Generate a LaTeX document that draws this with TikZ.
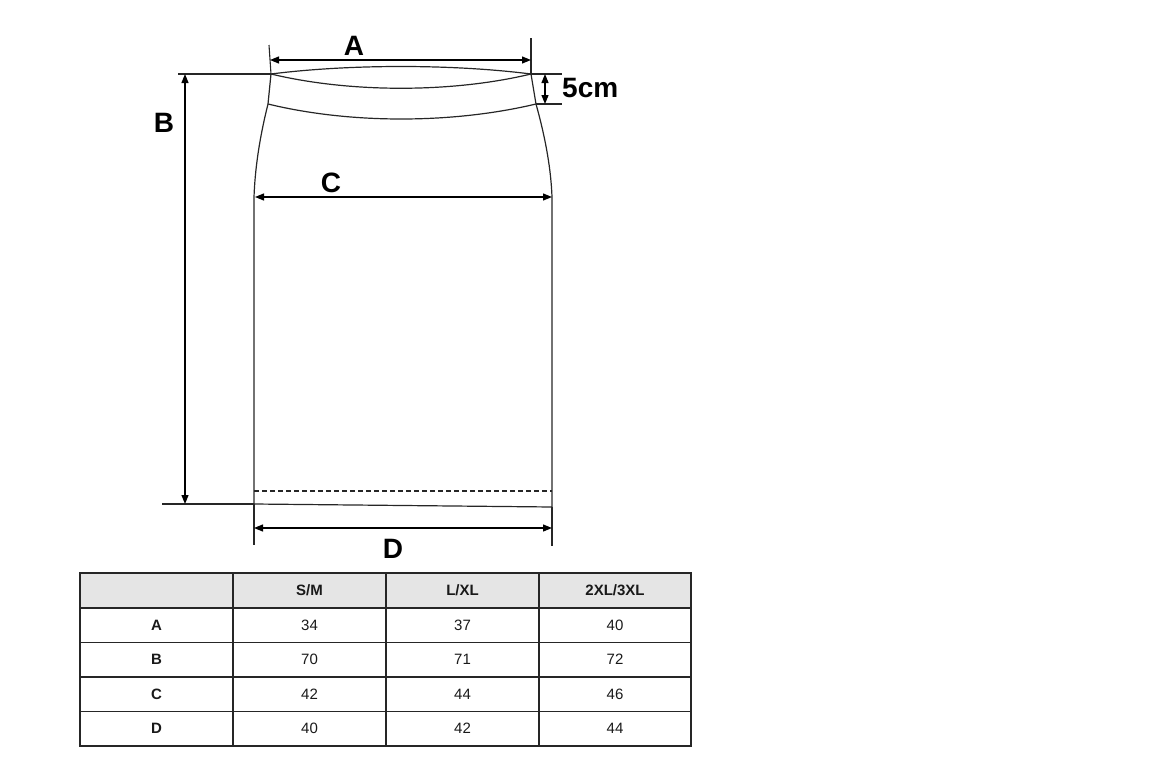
\documentclass[tikz,border=0pt]{standalone}
\usepackage{fontspec}
\setmainfont{Liberation Sans}
\usetikzlibrary{positioning,arrows.meta}
\begin{document}
\begin{tikzpicture}[x=1pt,y=-1pt]
    \tikzstyle{outline} = [line width=1.2pt, black!85]
    \tikzstyle{ext} = [line width=1.1pt, black!85]
    \tikzstyle{arr} = [{Triangle[length=9pt,width=7pt]}-{Triangle[length=9pt,width=7pt]}, line width=1.2pt]
    \tikzstyle{dim} = [font=\fontsize{28}{28}\selectfont\bfseries, inner sep=0pt]
    \tikzstyle{cell} = [font=\fontsize{15}{15}\selectfont, inner sep=0pt, text=black!90]
    \tikzstyle{head} = [cell, font=\fontsize{15}{15}\selectfont\bfseries]
    \useasboundingbox (0,0) rectangle (1152,771);

    % skirt
    \coordinate (waistL) at (271,74);
    \coordinate (waistR) at (531,74);
    \coordinate (bandL) at (268,104);
    \coordinate (bandR) at (536,104);
    \coordinate (hipL) at (254,197);
    \coordinate (hipR) at (552,197);
    \coordinate (hemL) at (254,504);
    \coordinate (hemR) at (552,507);
    \draw[outline] (waistL) .. controls (350,64) and (452,64) .. (waistR);
    \draw[outline] (waistL) .. controls (350,93) and (452,93) .. (waistR);
    \draw[outline] (bandL) .. controls (350,124) and (452,124) .. (bandR);
    \draw[outline] (waistL) -- (bandL) .. controls (259,140) and (255,170) .. (hipL) -- (hemL);
    \draw[outline] (waistR) -- (bandR) .. controls (546,140) and (551,170) .. (hipR) -- (hemR);
    \draw[outline] (hemL) -- (hemR);
    \draw[outline, dashed, dash pattern=on 5pt off 3pt] (254,491) -- (552,491);

    % extension lines
    \draw[ext] (178,74) -- (waistL);
    \draw[ext] (waistR) -- (562,74);
    \draw[ext] (bandR) -- (562,104);
    \draw[ext] (162,504) -- (hemL);
    \draw[ext] (269,45) -- (waistL);
    \draw[ext] (531,38) -- (waistR);
    \draw[ext] (hemL) -- (254,545);
    \draw[ext] (hemR) -- (552,546);

    % dimension arrows
    \coordinate (aL) at (270,60);
    \coordinate (aR) at (531,60);
    \coordinate (bT) at (185,74);
    \coordinate (bB) at (185,504);
    \coordinate (cL) at (255,197);
    \coordinate (cR) at (552,197);
    \coordinate (dL) at (254,528);
    \coordinate (dR) at (552,528);
    \coordinate (fT) at (545,74);
    \coordinate (fB) at (545,104);
    \draw[arr] (aL) -- (aR);
    \draw[arr] (bT) -- (bB);
    \draw[arr] (cL) -- (cR);
    \draw[arr] (dL) -- (dR);
    \draw[arr] (fT) -- (fB);
    \node[dim] (labelA) at (354,46) {A};
    \node[dim] (labelB) at (164,123) {B};
    \node[dim] (labelC) at (331,183) {C};
    \node[dim] (labelD) at (393,549) {D};
    \node[dim, anchor=west] (labelF) at (562,88) {5cm};

    % size table
    \fill[black!10] (80,573) rectangle (691,608);
    \draw[line width=1.1pt, black!85] (80,573) rectangle (691,746);
    \foreach \y in {608,642.5,677,711.5}
        \draw[line width=1.1pt, black!85] (80,\y) -- (691,\y);
    \foreach \x in {233,386,539}
        \draw[line width=1.1pt, black!85] (\x,573) -- (\x,746);
    \node[head] (headSM) at (309.5,590.5) {S/M};
    \node[head] (headLXL) at (462.5,590.5) {L/XL};
    \node[head] (headXXL) at (615,590.5) {2XL/3XL};
    \foreach \r/\a/\b/\c [count=\i] in {A/34/37/40, B/70/71/72, C/42/44/46, D/40/42/44} {
        \node[head] (row\i) at (156.5,590.5+34.5*\i) {\r};
        \node[cell] (sm\i) at (309.5,590.5+34.5*\i) {\a};
        \node[cell] (lxl\i) at (462.5,590.5+34.5*\i) {\b};
        \node[cell] (xxl\i) at (615,590.5+34.5*\i) {\c};
    }
\end{tikzpicture}
\end{document}
